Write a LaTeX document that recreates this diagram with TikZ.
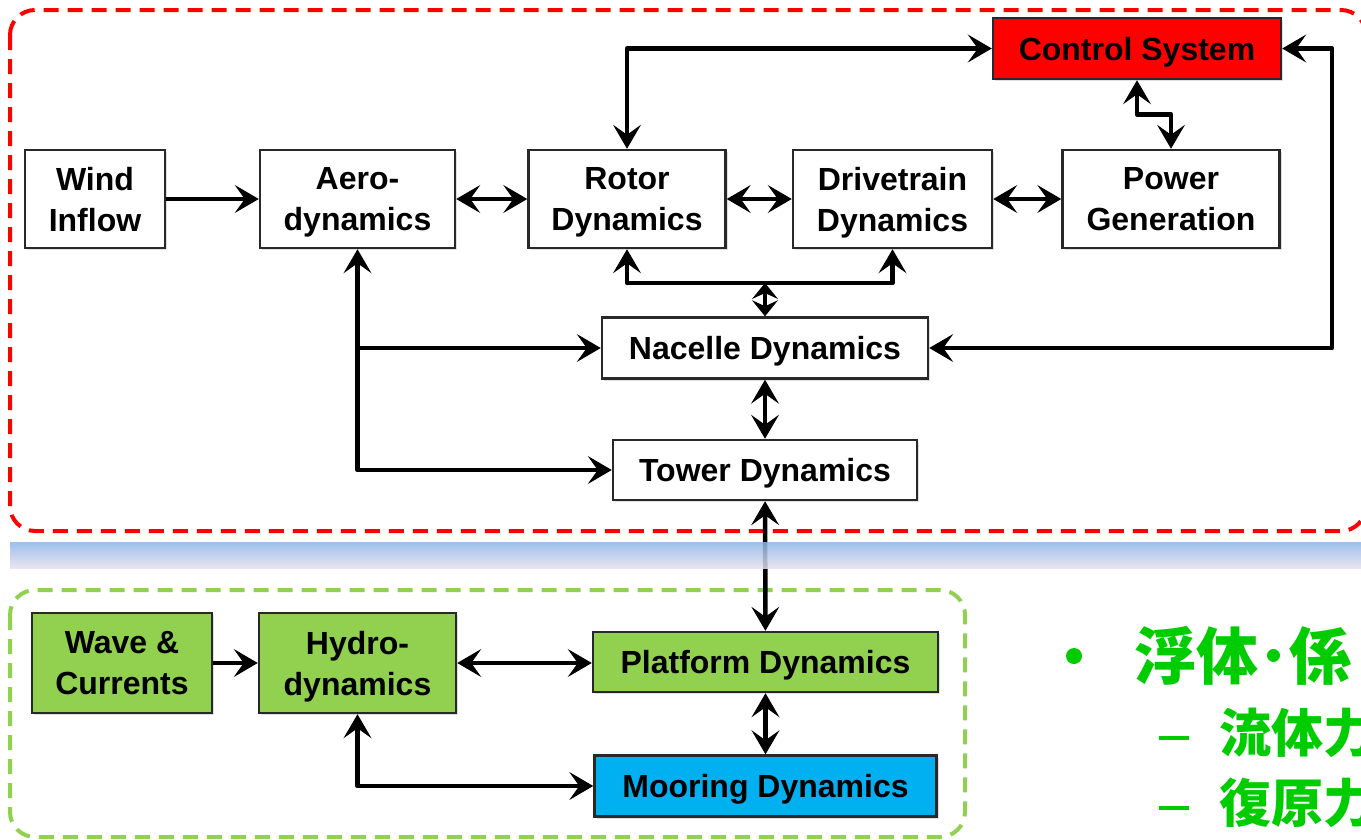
\documentclass[tikz,border=0pt]{standalone}
\usepackage{fontspec}
\setmainfont{Liberation Sans}
\newfontfamily\cjk{Noto Sans CJK JP}
\usetikzlibrary{arrows.meta,shadows,calc}

\definecolor{ctrlred}{RGB}{255,0,0}
\definecolor{leafgreen}{RGB}{146,208,80}
\definecolor{seablue}{RGB}{0,176,240}
\definecolor{jpgreen}{RGB}{0,204,0}
\definecolor{boxline}{RGB}{40,40,40}
\definecolor{bandtop}{RGB}{138,182,232}
\definecolor{bandmid}{RGB}{112,174,244}
\definecolor{bandbot}{RGB}{232,222,238}

\tikzset{
  blk/.style={draw=boxline, line width=2.5pt, fill=white, inner sep=0pt,
    align=center, text=black, text depth=0pt, font=\fontsize{32}{41}\selectfont\bfseries,
    drop shadow={shadow xshift=2pt, shadow yshift=-2pt, opacity=0.25}},
  link/.style={line width=4.5pt, line join=round, draw=black,
    >={Stealth[length=24pt, width=28pt, inset=10pt, line width=1pt]}},
  shortlink/.style={link,
    >={Stealth[length=16pt, width=26pt, inset=6pt, line width=1pt]}},
  zone/.style={line width=4pt, dash pattern=on 15pt off 9pt, rounded corners=25pt},
  jp/.style={inner sep=0pt, text=jpgreen, anchor=west}
}

\begin{document}
\begin{tikzpicture}[x=1pt, y=-1pt]
\useasboundingbox (0,0) rectangle (1361,839);

% above-water and below-water zones
\draw[zone, draw=ctrlred] (10,10) rectangle (1366,531);
\draw[zone, draw=leafgreen] (10,590) rectangle (965,837);

% turbine blocks
\node[blk, minimum width=140pt, minimum height=98pt] (wind) at (95,199) {Wind\\Inflow};
\node[blk, minimum width=195pt, minimum height=98pt] (aero) at (357.5,199) {Aero-\\dynamics};
\node[blk, minimum width=197pt, minimum height=98pt] (rotor) at (627,199) {Rotor\\Dynamics};
\node[blk, minimum width=199pt, minimum height=98pt] (drive) at (892.5,199) {Drivetrain\\Dynamics};
\node[blk, minimum width=217pt, minimum height=98pt] (power) at (1171,199) {Power\\Generation};
\node[blk, fill=ctrlred, minimum width=288pt, minimum height=61pt] (control) at (1137,48.5) {Control System};
\node[blk, minimum width=326pt, minimum height=61pt] (nacelle) at (765,348) {Nacelle Dynamics};
\node[blk, minimum width=304pt, minimum height=60pt] (tower) at (765,470) {Tower Dynamics};

% substructure blocks
\node[blk, fill=leafgreen, minimum width=180pt, minimum height=100pt] (wave) at (122,663) {Wave \&\\Currents};
\node[blk, fill=leafgreen, minimum width=197pt, minimum height=100pt] (hydro) at (357.5,663) {Hydro-\\dynamics};
\node[blk, fill=leafgreen, minimum width=345pt, minimum height=60pt] (platform) at (765.5,662) {Platform Dynamics};
\node[blk, fill=seablue, minimum width=342pt, minimum height=61pt] (mooring) at (765.5,786) {Mooring Dynamics};

% routing points
\coordinate (fbk) at (1332,348);
\coordinate (bar) at (0,283);

% turbine couplings
\draw[link, ->] (wind) -- (aero);
\draw[link, <->] (aero) -- (rotor);
\draw[link, <->] (rotor) -- (drive);
\draw[link, <->] (drive) -- (power);
\draw[link, <->] (rotor.north) |- (control.west);
\draw[link, <->] (control.south) -- ++(0,34) -| (power.north);
\draw[link, <->] (nacelle.east) -- (fbk) |- (control.east);
\draw[link, <->] (rotor.south) -- (rotor.south |- bar) -| (drive.south);
\draw[shortlink, <->] (nacelle.north |- bar) -- (nacelle.north);
\draw[link, <->] (nacelle) -- (tower);
\draw[link, <->] (aero.south) |- (tower.west);
\draw[link, ->] (aero.south |- nacelle.west) -- (nacelle.west);

% tower to floater through the waterline
\draw[link, <->] (tower) -- (platform);

% floater couplings
\draw[link, ->] (wave) -- (hydro);
\draw[link, <->] (hydro.east) -- (platform.west |- hydro.east);
\draw[link, <->] (platform) -- (mooring);
\draw[link, <->] (hydro.south) |- (mooring.west);

% waterline band
\shade[top color=bandtop, middle color=bandmid, bottom color=bandbot, opacity=0.85]
  (10,542) rectangle (1361,568);

% bullet list
\fill[jpgreen] (1074,656) circle (8pt);
\node[jp, font=\cjk\bfseries\fontsize{62}{62}\selectfont] (b1) at (1134,656) {浮体･係};
\node[inner sep=0pt, text=jpgreen] (d2) at (1174,738) {\rule{30pt}{4.5pt}};
\node[jp, font=\cjk\bfseries\fontsize{52}{52}\selectfont] (b2) at (1219,733) {流体力};
\node[inner sep=0pt, text=jpgreen] (d3) at (1174,808) {\rule{30pt}{4.5pt}};
\node[jp, font=\cjk\bfseries\fontsize{52}{52}\selectfont] (b3) at (1219,803) {復原力};
\end{tikzpicture}
\end{document}
